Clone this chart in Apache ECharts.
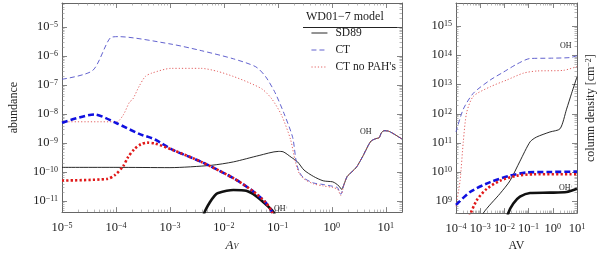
<!DOCTYPE html>
<html><head><meta charset="utf-8">
<script src="https://cdn.jsdelivr.net/npm/echarts@6/dist/echarts.min.js"></script>
<style>html,body{margin:0;padding:0;background:#fff}#c{width:600px;height:257px}</style>
</head><body><div id="c"></div>
<script>
// ---------- LEFT PANEL: abundance vs A_V ----------
const L_SD89_av = [1e-5,1e-4,1e-3,5.8e-3,0.0151,0.045,0.102,0.125,0.177,0.232,0.305,0.459,0.692,1.04,1.19,1.37,1.52,1.68,1.93,2.37,2.9,3.82,4.69,5.37,6.59,7.53,8.32,9.25,11.4,20];
const L_SD89_ab = [1.48e-10,1.48e-10,1.45e-10,1.74e-10,2.29e-10,3.8e-10,5.25e-10,5.1e-10,3.3e-10,2.29e-10,1.2e-10,7.2e-11,5.1e-11,4.7e-11,4.1e-11,3.3e-11,2.6e-11,3.8e-11,7.2e-11,1.05e-10,1.55e-10,3.8e-10,8.1e-10,1.2e-9,1.45e-9,1.55e-9,2.3e-9,2.7e-9,2.6e-9,1.4e-9];

const L_CT_av = [1e-5,3.7e-5,7.9e-5,1.1e-4,1.05e-3,3.8e-3,0.015,0.039,0.059,0.089,0.134,0.189,0.217,0.248,0.305,0.459,0.692,1.04,1.28,1.47,1.68,1.93,2.37,2.9,3.82,4.69,5.37,6.59,7.53,8.32,9.25,11.4,20];
const L_CT_ab = [1.6e-7,3.2e-7,4.3e-6,4.7e-6,2.6e-6,1.55e-6,8.1e-7,4.3e-7,2.0e-7,5.5e-8,9.3e-9,1.55e-9,2.6e-10,1.05e-10,6.3e-11,4.3e-11,3.8e-11,3.3e-11,2.95e-11,1.74e-11,3.8e-11,7.2e-11,1.05e-10,1.55e-10,3.8e-10,8.1e-10,1.2e-9,1.45e-9,1.55e-9,2.3e-9,2.7e-9,2.6e-9,1.4e-9];

const L_NOPAH_av = [1e-5,1.03e-4,1.36e-4,1.78e-4,2.05e-4,2.7e-4,3.5e-4,4.6e-4,1.05e-3,3.8e-3,7.6e-3,0.015,0.030,0.052,0.078,0.117,0.172,0.211,0.248,0.305,0.459,0.692,1.04,1.28,1.47,1.68,1.93,2.37,2.9,3.82,4.69,5.37,6.59,7.53,8.32,9.25,11.4,20];
const L_NOPAH_ab = [5.5e-9,5.5e-9,9.3e-9,2.6e-8,3.3e-8,9.3e-8,2.0e-7,2.6e-7,3.8e-7,3.8e-7,3.0e-7,2.0e-7,1.2e-7,7.2e-8,3.3e-8,9.3e-9,1.35e-9,2.3e-10,9.3e-11,5.9e-11,4.0e-11,3.4e-11,3.0e-11,2.6e-11,1.6e-11,3.8e-11,7.2e-11,1.05e-10,1.55e-10,3.8e-10,8.1e-10,1.2e-9,1.45e-9,1.55e-9,2.3e-9,2.7e-9,2.6e-9,1.4e-9];

const L_OHP_CT_av = [1e-5,4.0e-5,1.03e-4,2.7e-4,5.3e-4,1.13e-3,3.8e-3,0.015,0.034,0.059,0.078,0.097];
const L_OHP_CT_ab = [5.1e-9,9.8e-9,4.9e-9,2.1e-9,1.35e-9,5.9e-10,2.3e-10,6.3e-11,2.3e-11,9.3e-12,4.3e-12,1.35e-12];

const L_OHP_NOPAH_av = [1e-5,6.9e-5,9.6e-5,1.36e-4,1.67e-4,2.19e-4,2.9e-4,3.8e-4,5.3e-4,1.13e-3,3.8e-3,0.015,0.034,0.059,0.078,0.097];
const L_OHP_NOPAH_ab = [5.2e-11,5.9e-11,8.1e-11,1.62e-10,3.3e-10,6.3e-10,9.3e-10,1.05e-9,9.8e-10,5.9e-10,2.3e-10,6.3e-11,2.3e-11,9.3e-12,4.3e-12,1.35e-12];

const L_OHP_SD89_av = [3.8e-3,4.4e-3,5.5e-3,6.7e-3,7.6e-3,0.015,0.026,0.039,0.059,0.083,0.097];
const L_OHP_SD89_ab = [1.7e-12,4.3e-12,9.3e-12,1.55e-11,1.9e-11,2.45e-11,2.3e-11,1.55e-11,8.1e-12,4.3e-12,2e-12];

// ---------- RIGHT PANEL: column density vs AV ----------
const R_CT_av = [1e-4,2.0e-4,5.2e-4,2.6e-3,9.1e-3,0.033,0.115,0.76,5.1,10];
const R_CT_cd = [2.4e11,1.45e12,5.1e12,1.45e13,2.7e13,5.1e13,7.9e13,8.1e13,8.5e13,9.8e13];
const R_NOPAH_av = [1e-4,1.47e-4,2.0e-4,2.75e-4,5.2e-4,2.6e-3,0.0126,0.062,0.22,2.75,10];
const R_NOPAH_cd = [6.8e8,5.1e9,1.1e11,1.1e12,4.0e12,8.5e12,1.45e13,2.5e13,2.95e13,3.1e13,4.2e13];
const R_SD89_av = [8.1e-4,1.35e-3,6.6e-3,0.017,0.044,0.115,0.21,0.76,2.0,3.7,6.0,10];
const R_SD89_cd = [1.26e8,4e8,1.86e9,5.1e9,2.4e10,1.1e11,1.6e11,2.4e11,3.1e11,1.45e12,5.1e12,1.86e13];
const R_OHP_CT_av = [1e-4,3.8e-4,2.6e-3,0.017,0.083,0.76,10];
const R_OHP_CT_cd = [7.6e8,2.1e9,4.6e9,7.6e9,9.8e9,1.02e10,1.05e10];
const R_OHP_NOPAH_av = [2.6e-4,3.8e-4,7.2e-4,1.86e-3,6.6e-3,0.032,0.16,10];
const R_OHP_NOPAH_cd = [1.6e8,3.5e8,1.1e9,2.7e9,5.1e9,7.6e9,8.5e9,8.5e9];
const R_OHP_SD89_av = [0.0118,0.0145,0.0234,0.044,0.115,0.76,3.7,10];
const R_OHP_SD89_cd = [1.6e8,4e8,8.5e8,1.45e9,1.95e9,2.0e9,2.1e9,2.7e9];

// tick decades
const L_xDecades = [-5,-4,-3,-2,-1,0,1];
const L_yDecades = [-11,-10,-9,-8,-7,-6,-5];
const R_xDecades = [-4,-3,-2,-1,0,1];
const R_yDecades = [9,10,11,12,13,14,15];
const legendNames = ['SD89','CT',"CT no PAH's"];

const lg = Math.log10;
const pts = (xs, ys) => xs.map((x, i) => [lg(x), lg(ys[i])]);
function minors(lo, hi) {
  const out = [];
  for (let n = Math.floor(lo) - 1; n <= Math.ceil(hi); n++)
    for (let k = 2; k <= 9; k++) { const v = n + lg(k); if (v > lo && v < hi) out.push(v); }
  return out;
}
const FONT = '"Liberation Serif","DejaVu Serif",serif';
const FRAME = '#666';
const supFmt = v => { const n = Math.round(v); return '{b|10}{s|' + (n < 0 ? '\u2212' + (-n) : n) + '}'; };
const rich = {
  b: {fontFamily: FONT, fontSize: 12.5, color: '#222', lineHeight: 12, verticalAlign: 'bottom'},
  s: {fontFamily: FONT, fontSize: 8, color: '#222', lineHeight: 4, verticalAlign: 'top'}
};

function axisSet(gridIndex, lo, hi, decades, pos, extra) {
  const base = {type: 'value', gridIndex, min: lo, max: hi, position: pos, splitLine: {show: false}};
  const major = Object.assign({}, base, {
    axisLine: {show: true, onZero: false, lineStyle: {color: FRAME, width: 1}},
    axisTick: {show: true, inside: true, length: 5, customValues: decades, lineStyle: {color: FRAME, width: 0.8}},
    axisLabel: {show: false, customValues: decades},
  }, extra || {});
  const minor = Object.assign({}, base, {
    axisLine: {show: false, onZero: false},
    axisTick: {show: true, inside: true, length: 2.5, customValues: minors(lo, hi), lineStyle: {color: '#888', width: 0.6}},
    axisLabel: {show: false}
  });
  return [major, minor];
}
const labelCfg = (decades, m) => ({show: true, customValues: decades, formatter: supFmt, rich: rich, margin: m});

const LX = [-5, lg(20)], LY = [-11.37, -4.17];
const RX = [-4, 1], RY = [8.6, 15.8];
const nameRich = {i: {fontFamily: FONT, fontStyle: 'italic', fontSize: 13, color: '#222', lineHeight: 12, verticalAlign: 'top'},
                  v: {fontFamily: FONT, fontStyle: 'italic', fontSize: 8, color: '#222', lineHeight: 6, verticalAlign: 'bottom'}};

const xAxes = [
  ...axisSet(0, LX[0], LX[1], L_xDecades, 'bottom', {axisLabel: labelCfg(L_xDecades, 10),
    name: '{i|A}{v|V}', nameLocation: 'middle', nameGap: 21,
    nameTextStyle: {rich: nameRich}}),
  ...axisSet(0, LX[0], LX[1], L_xDecades, 'top'),
  ...axisSet(1, RX[0], RX[1], R_xDecades, 'bottom', {axisLabel: labelCfg(R_xDecades, 10),
    name: 'AV', nameLocation: 'middle', nameGap: 20, nameTextStyle: {fontFamily: FONT, fontSize: 12, color: '#222'}}),
  ...axisSet(1, RX[0], RX[1], R_xDecades, 'top'),
];
const yAxes = [
  ...axisSet(0, LY[0], LY[1], L_yDecades, 'left', {axisLabel: labelCfg(L_yDecades, 4),
    name: 'abundance', nameLocation: 'middle', nameGap: 42, nameRotate: 90, nameTextStyle: {fontFamily: FONT, fontSize: 12, color: '#222'}}),
  ...axisSet(0, LY[0], LY[1], L_yDecades, 'right'),
  ...axisSet(1, RY[0], RY[1], R_yDecades, 'left', {axisLabel: labelCfg(R_yDecades, 4)}),
  ...axisSet(1, RY[0], RY[1], R_yDecades, 'right', {
    name: 'column density [cm{s|\u22122}]', nameLocation: 'middle', nameGap: 8, nameRotate: 90,
    nameTextStyle: {fontFamily: FONT, fontSize: 12, color: '#222', verticalAlign: 'top',
      rich: {s: {fontFamily: FONT, fontSize: 8, color: '#222', verticalAlign: 'top', lineHeight: 9}}}}),
];

const C_SD = '#111', C_CT = '#5050c8', C_NP = '#e05050', C_CTt = '#1010e0', C_NPt = '#e01818';
function ser(name, data, gi, color, width, type) {
  return {name, type: 'line', xAxisIndex: gi * 4, yAxisIndex: gi * 4, data, symbol: 'none', smooth: 0.25,
    clip: true, silent: true, lineStyle: {color, width, type}, itemStyle: {color}};
}
const series = [
  ser('SD89', pts(L_SD89_av, L_SD89_ab), 0, C_SD, 0.9, 'solid'),
  ser('CT', pts(L_CT_av, L_CT_ab), 0, C_CT, 0.9, [5, 3]),
  ser("CT no PAH's", pts(L_NOPAH_av, L_NOPAH_ab), 0, C_NP, 0.9, [1.2, 2]),
  ser('OH+ SD89', pts(L_OHP_SD89_av, L_OHP_SD89_ab), 0, C_SD, 2.6, 'solid'),
  ser('OH+ CT', pts(L_OHP_CT_av, L_OHP_CT_ab), 0, C_CTt, 2.6, [6, 3]),
  ser('OH+ CT no PAH', pts(L_OHP_NOPAH_av, L_OHP_NOPAH_ab), 0, C_NPt, 2.6, [2.2, 2.2]),
  ser('R SD89', pts(R_SD89_av, R_SD89_cd), 1, C_SD, 0.9, 'solid'),
  ser('R CT', pts(R_CT_av, R_CT_cd), 1, C_CT, 0.9, [5, 3]),
  ser('R CT no PAH', pts(R_NOPAH_av, R_NOPAH_cd), 1, C_NP, 0.9, [1.2, 2]),
  ser('R OH+ SD89', pts(R_OHP_SD89_av, R_OHP_SD89_cd), 1, C_SD, 2.6, 'solid'),
  ser('R OH+ CT', pts(R_OHP_CT_av, R_OHP_CT_cd), 1, C_CTt, 2.6, [6, 3]),
  ser('R OH+ CT no PAH', pts(R_OHP_NOPAH_av, R_OHP_NOPAH_cd), 1, C_NPt, 2.6, [2.2, 2.2]),
];

const txt = (x, y, t, size) => ({type: 'text', left: x, top: y, silent: true, z: 100,
  style: {text: t, fontFamily: FONT, fontSize: size || 8, fill: '#222',
  rich: {p: {fontFamily: FONT, fontSize: 5, fill: '#222', verticalAlign: 'top', lineHeight: 6}}}});

const chart = echarts.init(document.getElementById('c'), null, {renderer: 'canvas'});
chart.setOption({
  animation: false,
  backgroundColor: '#fff',
  grid: [
    {left: 48, top: 3, width: 354, height: 217},
    {left: 456, top: 3, width: 121, height: 217}
  ],
  xAxis: xAxes,
  yAxis: yAxes,
  legend: {data: legendNames, orient: 'vertical', left: 311, top: 27, padding: 0, itemWidth: 16, itemHeight: 12, itemGap: 5,
    itemStyle: {color: 'rgba(0,0,0,0)', borderColor: 'rgba(0,0,0,0)', borderWidth: 0, opacity: 0},
    lineStyle: {width: 0.9},
    textStyle: {fontFamily: FONT, fontSize: 11.5, color: '#222', padding: [0, 0, 0, 3]}, selectedMode: false},
  graphic: [
    {type: 'text', left: 306, top: 11, style: {text: 'WD01\u22127 model', fontFamily: FONT, fontSize: 12, fill: '#222'}},
    {type: 'line', shape: {x1: 303, y1: 27.5, x2: 402, y2: 27.5}, style: {stroke: '#222', lineWidth: 1}},
    txt(360, 128, 'OH'),
    txt(274, 205, 'OH{p|+}'),
    txt(560, 42, 'OH'),
    txt(559, 184, 'OH{p|+}')
  ],
  series
});
</script></body></html>
